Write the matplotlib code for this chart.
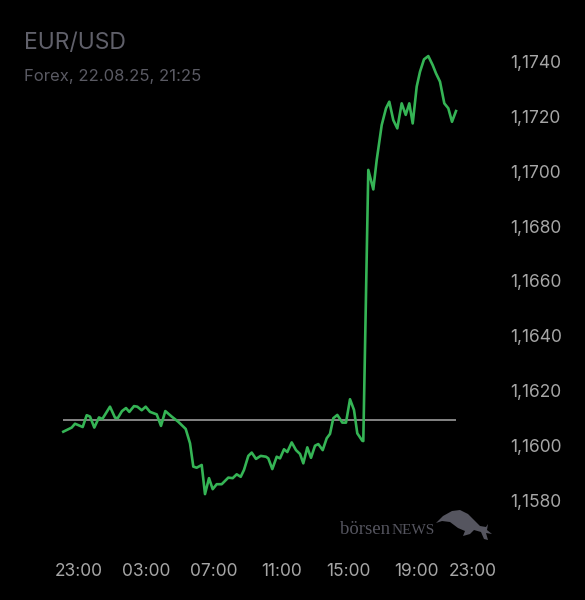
import matplotlib
matplotlib.use("Agg")
import matplotlib.pyplot as plt
from matplotlib.patches import Polygon
from matplotlib.transforms import ScaledTranslation

# ---- data: hours since 22:00 (21.08.25), EUR/USD quote ----
hours = [0.068, 0.567, 0.763, 1.22, 1.457, 1.653, 1.908, 2.187, 2.383, 2.84,
         3.137, 3.297, 3.552, 3.789, 3.985, 4.264, 4.46, 4.721, 4.958, 5.214,
         5.611, 5.866, 6.122, 6.501, 6.893, 7.332, 7.588, 7.783, 7.985, 8.282,
         8.478, 8.715, 8.935, 9.172, 9.469, 9.861, 10.122, 10.359, 10.596, 10.792,
         11.048, 11.249, 11.504, 11.783, 12.098, 12.234, 12.472, 12.733, 12.929, 13.166,
         13.362, 13.623, 13.878, 14.116, 14.312, 14.549, 14.769, 15.006, 15.202, 15.463,
         15.7, 15.896, 16.092, 16.329, 16.626, 16.846, 17.083, 17.32, 17.516, 17.813,
         17.872, 18.169, 18.466, 18.668, 18.964, 19.22, 19.415, 19.653, 19.89, 20.151,
         20.389, 20.602, 20.804, 21.042, 21.237, 21.475, 21.73, 21.991, 22.187, 22.424,
         22.68, 22.917, 23.136, 23.374]
prices = [1.16052, 1.16067, 1.16081, 1.16069, 1.16112, 1.16107, 1.16067, 1.16104, 1.16098, 1.16143,
          1.16103, 1.16101, 1.16127, 1.16138, 1.16124, 1.16145, 1.16143, 1.16130, 1.16143, 1.16124,
          1.16115, 1.16073, 1.16127, 1.16107, 1.16088, 1.16062, 1.16010, 1.15925, 1.15921, 1.15931,
          1.15825, 1.15883, 1.15843, 1.15861, 1.15861, 1.15885, 1.15883, 1.15897, 1.15888, 1.15913,
          1.15964, 1.15976, 1.15953, 1.15964, 1.15961, 1.15955, 1.15916, 1.15961, 1.15955, 1.15988,
          1.15978, 1.16013, 1.15985, 1.15971, 1.15937, 1.15995, 1.15957, 1.16001, 1.16007, 1.15985,
          1.16028, 1.16044, 1.16101, 1.16113, 1.16085, 1.16085, 1.16170, 1.16131, 1.16046, 1.16019,
          1.16018, 1.17004, 1.16933, 1.17040, 1.17167, 1.17228, 1.17252, 1.17185, 1.17155, 1.17246,
          1.17204, 1.17246, 1.17173, 1.17307, 1.17361, 1.17406, 1.17418, 1.17385, 1.17355, 1.17325,
          1.17246, 1.17228, 1.17179, 1.17218]
prev_close = 1.16095

x_ticks = [1, 5, 9, 13, 17, 21, 25]
x_labels = ["23:00", "03:00", "07:00", "11:00", "15:00", "19:00", "23:00"]
y_ticks = [1.1580, 1.1600, 1.1620, 1.1640, 1.1660, 1.1680, 1.1700, 1.1720, 1.1740]
y_labels = ["1,1580", "1,1600", "1,1620", "1,1640", "1,1660", "1,1680", "1,1700", "1,1720", "1,1740"]

title = "EUR/USD"
subtitle = "Forex, 22.08.25, 21:25"

W, H = 585, 600
fig = plt.figure(figsize=(W / 100, H / 100), dpi=100, facecolor="black")
plt.rcParams["font.family"] = ["Inter", "DejaVu Sans"]

# axes in pixel layout
L, R, T, B = 40, 500, 40, 530
ax = fig.add_axes([L / W, 1 - B / H, (R - L) / W, (B - T) / H])
ax.set_facecolor("black")
for s in ax.spines.values():
    s.set_visible(False)

ax.plot(hours, prices, color="#35b455", lw=1.9, solid_joinstyle="round", zorder=3)
ax.hlines(prev_close, hours[0], hours[-1], color="#8e8e8e", lw=1.3, zorder=2)

ax.set_xlim(-1.3145, 25.985)
ax.set_ylim(1.156945, 1.174764)

ax.set_xticks(x_ticks)
ax.set_xticklabels(x_labels)
ax.set_yticks(y_ticks)
ax.set_yticklabels(y_labels)
ax.yaxis.tick_right()
ax.tick_params(axis="both", length=0, colors="#a6a6a6", labelsize=12.5)
ax.tick_params(axis="x", pad=23.5)
ax.tick_params(axis="y", pad=7.5)
# last label nudged left as in the original
lbl = ax.get_xticklabels()[-1]
lbl.set_transform(lbl.get_transform() + ScaledTranslation(-11 / 100, 0, fig.dpi_scale_trans))

fig.text(24 / W, 1 - 49 / H, title, color="#60606a", fontsize=16.5, ha="left", va="baseline")
fig.text(24 / W, 1 - 81 / H, subtitle, color="#5a5a63", fontsize=12, ha="left", va="baseline")

# watermark
fig.text(340 / W, 1 - 534 / H, "börsen", color="#55555f", fontsize=13.5,
         family=["Liberation Serif", "DejaVu Serif"], ha="left", va="baseline")
fig.text(392 / W, 1 - 534 / H, "NEWS", color="#55555f", fontsize=11,
         family=["Liberation Serif", "DejaVu Serif"], ha="left", va="baseline")
bull_px = [(436, 523), (443, 516), (452, 511), (460, 510), (468, 514), (474, 520),
           (480, 526), (486, 527), (488, 524), (487, 530), (492, 534), (486, 533),
           (488, 540), (484, 539), (481, 532), (474, 530), (470, 534), (463, 536),
           (465, 531), (458, 528), (450, 522), (442, 521)]
bull = Polygon([(x / W, 1 - y / H) for x, y in bull_px], closed=True,
               transform=fig.transFigure, facecolor="#55555f", edgecolor="none")
fig.patches.append(bull)

fig.savefig("out.png", dpi=100, facecolor="black")
